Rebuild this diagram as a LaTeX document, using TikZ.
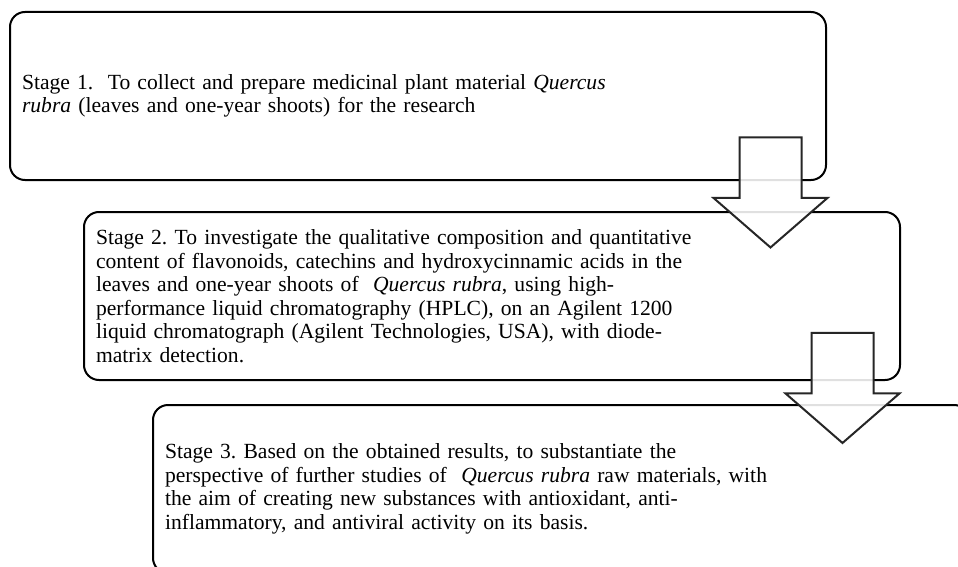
\documentclass[tikz,border=0pt]{standalone}
\usepackage{fontspec}
\setmainfont{Liberation Serif}
\usepackage{tikz}
\usetikzlibrary{shapes.arrows}
\definecolor{stageline}{RGB}{0,0,0}
\definecolor{arrline}{RGB}{38,38,38}
\frenchspacing
\tikzset{
  stagebox/.style={rectangle, draw=stageline, fill=white,
    minimum width=408pt, minimum height=84pt, text width=396pt,
    inner xsep=6pt, align=left, rounded corners=7.5pt, line width=1pt,
    font=\fontsize{10.8}{11.75}\selectfont},
  downarrow/.style={single arrow, draw=arrline, fill=white, fill opacity=0.88,
    draw opacity=1, rotate=-90, minimum height=55pt,
    single arrow head extend=13pt, single arrow tip angle=98,
    inner xsep=0pt, inner ysep=15pt, line width=1pt}
}

\begin{document}
\begin{tikzpicture}[x=0.5pt, y=-0.5pt]
  \useasboundingbox (0,0) rectangle (958,567);
  \clip (0,0) rectangle (958,567);
  \fill[white] (0,0) rectangle (958,567);

  % Stage boxes
  \node[stagebox] (stage1) at (418, 96) {Stage 1.\ \ To collect and prepare medicinal plant material \textit{Quercus}\\
    \textit{rubra} (leaves and one-year shoots) for the research};
  \node[stagebox] (stage2) at (492, 296) {Stage 2. To investigate the qualitative composition and quantitative\\
    content of flavonoids, catechins and hydroxycinnamic acids in the\\
    leaves and one-year shoots of\ \ \textit{Quercus rubra}, using high-\\
    performance liquid chromatography (HPLC), on an Agilent 1200\\
    liquid chromatograph (Agilent Technologies, USA), with diode-\\
    matrix detection.};
  \node[stagebox] (stage3) at (561, 489) {Stage 3. Based on the obtained results, to substantiate the\\
    perspective of further studies of\ \ \textit{Quercus rubra} raw materials, with\\
    the aim of creating new substances with antioxidant, anti-\\
    inflammatory, and antiviral activity on its basis.};

  % Block arrows between stages
  \node[downarrow] (arr12) at (770.5, 179) {};
  \node[downarrow] (arr23) at (842.5, 374.5) {};
\end{tikzpicture}
\end{document}
